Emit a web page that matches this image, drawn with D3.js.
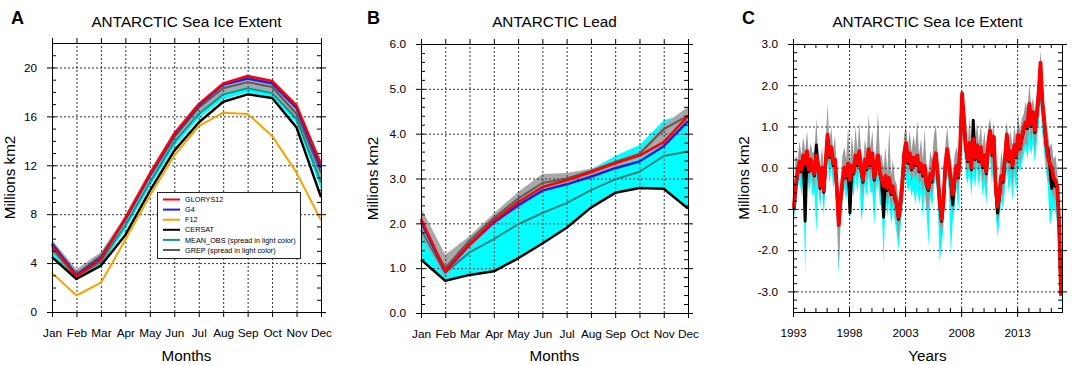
<!DOCTYPE html>
<html>
<head>
<meta charset="utf-8">
<script src="https://cdn.jsdelivr.net/npm/d3@7"></script>
<style>
body { margin: 0; background: #fff; }
svg { font-family: "Liberation Sans", Arial, sans-serif; }
.grid line { stroke: #333; stroke-dasharray: 2,2; stroke-width: 1; }
.grid path { display: none; }
.tk path { display: none; }
.tk line { stroke: #000; }
.tk text { font-size: 11.8px; fill: #000; font-family: "Liberation Sans", Arial, sans-serif; }
</style>
</head>
<body>
<div id="chart"></div>
<script>
//months on the x axis of panels A and B
var months = ["Jan","Feb","Mar","Apr","May","Jun","Jul","Aug","Sep","Oct","Nov","Dec"];

//panel A: climatology of sea ice extent
var glorysA  = [5.4, 2.9, 4.3, 7.7, 11.3, 14.6, 17.0, 18.7, 19.3, 18.9, 16.9, 12.1];
var g4A      = [5.6, 3.0, 4.4, 7.6, 11.2, 14.5, 16.9, 18.6, 19.1, 18.7, 16.7, 11.8];
var f12A     = [3.2, 1.35, 2.4, 5.9, 9.5, 12.8, 15.2, 16.3, 16.2, 14.4, 11.4, 7.5];
var cersatA  = [4.5, 2.7, 3.8, 6.3, 9.9, 13.2, 15.5, 17.2, 17.8, 17.5, 15.1, 9.4];
var meanObsA = [5.1, 2.9, 4.1, 7.1, 10.6, 13.9, 16.2, 17.8, 18.3, 17.9, 15.8, 10.6];
var obsLoA   = [4.7, 2.7, 3.85, 6.7, 10.2, 13.5, 15.8, 17.4, 17.95, 17.6, 15.4, 10.0];
var obsHiA   = [5.45, 3.1, 4.4, 7.5, 11.0, 14.3, 16.6, 18.2, 18.7, 18.3, 16.3, 11.2];
var grepA    = [5.5, 3.1, 4.6, 7.6, 11.1, 14.3, 16.7, 18.3, 18.8, 18.4, 16.2, 11.4];
var grepLoA  = [5.1, 2.6, 4.2, 7.2, 10.7, 13.9, 16.3, 17.9, 18.4, 18.0, 15.8, 10.9];
var grepHiA  = [5.9, 3.5, 4.9, 7.9, 11.5, 14.7, 17.1, 18.7, 19.2, 18.8, 16.6, 11.9];

//panel B: climatology of leads
var glorysB  = [2.1, 0.94, 1.54, 2.06, 2.47, 2.81, 2.96, 3.14, 3.34, 3.51, 3.81, 4.39];
var g4B      = [2.05, 0.92, 1.52, 2.02, 2.4, 2.73, 2.87, 3.04, 3.23, 3.38, 3.72, 4.28];
var cersatB  = [1.19, 0.72, 0.85, 0.93, 1.22, 1.55, 1.9, 2.35, 2.68, 2.79, 2.77, 2.33];
var meanObsB = [1.85, 0.9, 1.35, 1.65, 1.98, 2.23, 2.45, 2.74, 2.98, 3.15, 3.5, 3.6];
var obsLoB   = [1.19, 0.72, 0.85, 0.93, 1.22, 1.55, 1.9, 2.35, 2.68, 2.79, 2.77, 2.33];
var obsHiB   = [2.0, 1.0, 1.55, 2.05, 2.45, 2.8, 2.95, 3.2, 3.5, 3.75, 4.3, 4.45];
var grepB    = [2.0, 1.0, 1.62, 2.12, 2.55, 2.9, 3.0, 3.17, 3.37, 3.55, 4.1, 4.4];
var grepLoB  = [1.7, 0.8, 1.45, 1.95, 2.35, 2.75, 2.85, 3.0, 3.25, 3.45, 3.75, 4.3];
var grepHiB  = [2.35, 1.3, 1.72, 2.22, 2.7, 3.1, 3.12, 3.22, 3.4, 3.6, 4.2, 4.6];

//panel C: anomalies, one value every two months from Jan 1993 (one row per year)
var startYearC = 1993;
var glorysC = [
  -0.95, -0.4, -0.1, 0.15, -0.05, 0.3,
  0.1, 0.4, -0.05, 0.2, 0.0, -0.15,
  0.3, 0.05, -0.45, 0.0, -0.55, 0.15,
  0.8, 0.3, 0.5, 0.1, 0.2, -0.5,
  -1.4, -0.75, -0.3, 0.0, -0.2, 0.1,
  -0.3, 0.05, -0.1, 0.3, 0.1, 0.4,
  -0.05, -0.3, 0.2, 0.0, 0.45, 0.1,
  0.35, -0.25, 0.05, 0.3, -0.1, -0.3,
  -0.45, -0.2, -0.5, -0.25, -0.6, -0.45,
  -0.7, -0.85, -1.2, -0.9, -0.4, 0.35,
  0.6, 0.15, 0.35, 0.0, 0.25, 0.1,
  0.3, -0.05, 0.1, -0.15, 0.05, -0.4,
  -0.5, -0.15, -0.3, 0.15, 0.35, -0.15,
  -0.8, -1.25, -0.85, 0.05, 0.45, 0.1,
  -0.3, -0.65, -0.3, 0.05, -0.2, 0.5,
  1.8, 1.2, 0.5, 0.2, 0.6, 0.0,
  0.7, 0.25, 0.55, 0.2, 0.5, 0.05,
  0.3, -0.1, 0.6, 0.9, 0.35, 0.75,
  -0.45, -0.95, -0.65, -0.2, -0.3, 0.25,
  0.8, 0.2, 0.4, 0.05, 0.55, 0.3,
  0.8, 0.5, 0.75, 0.95, 1.1, 1.0,
  1.55, 1.05, 1.35, 0.9, 1.3, 1.8,
  2.55, 1.6, 1.15, 0.6, 0.25, 0.1,
  0.0, -0.25, -0.3, -0.45, -1.4, -3.1
];
var cersatC = [
  -1.0, -0.45, -0.15, 0.1, -0.1, 0.25,
  -1.3, 0.35, -0.1, 0.15, -0.05, -0.2,
  0.55, 0.0, -0.5, -0.05, -0.6, 0.1,
  0.75, 0.25, 0.45, 0.05, 0.15, -0.55,
  -1.35, -0.8, -0.35, -0.05, -0.25, 0.05,
  -1.1, 0.0, -0.15, 0.25, 0.05, 0.35,
  -0.1, -0.35, 0.15, -0.05, 0.4, 0.05,
  0.3, -0.3, 0.0, 0.25, -0.15, -0.35,
  -1.2, -0.25, -0.55, -0.3, -0.65, -0.5,
  -0.75, -0.9, -1.25, -0.95, -0.45, 0.3,
  0.55, 0.1, 0.3, -0.05, 0.2, 0.05,
  0.25, -0.1, 0.05, -0.2, 0.0, -0.45,
  -0.55, -0.2, -0.35, 0.1, 0.3, -0.2,
  -0.85, -1.3, -0.9, 0.0, 0.4, 0.05,
  -0.35, -0.9, -0.35, 0.0, -0.25, 0.45,
  1.7, 1.15, 0.45, 0.15, 0.55, -0.05,
  1.15, 0.2, 0.5, 0.15, 0.45, 0.0,
  0.25, -0.15, 0.55, 0.85, 0.3, 0.7,
  -0.5, -1.1, -0.7, -0.25, -0.35, 0.2,
  0.75, 0.15, 0.35, 0.0, 0.5, 0.25,
  0.75, 0.45, 0.7, 0.9, 1.05, 0.95,
  1.5, 1.0, 1.3, 0.85, 1.25, 1.75,
  2.45, 1.55, 1.1, 0.55, 0.45, 0.05,
  -0.5, -0.3, -0.45, -0.5, -1.5, -3.1
];
var grepHiC = [
  -0.6, 0.3, 0.2, 0.65, 0.3, 0.75,
  0.4, 0.9, 0.3, 0.6, 0.35, 0.4,
  1.2, 0.3, 0.0, 0.5, 0.0, 0.6,
  1.55, 0.6, 1.0, 0.4, 0.8, -0.1,
  -1.0, -0.3, 0.3, 0.5, 0.2, 1.0,
  0.1, 0.8, 0.3, 1.0, 0.4, 1.1,
  0.3, 0.1, 0.7, 0.4, 1.3, 0.5,
  0.9, 0.1, 0.5, 1.35, 0.3, 0.3,
  0.0, 0.5, -0.1, 0.95, -0.2, 0.2,
  -0.3, -0.4, -0.8, -0.3, 0.0, 0.8,
  1.0, 0.5, 0.9, 0.4, 0.8, 0.5,
  1.15, 0.3, 0.7, 0.2, 0.95, 0.0,
  -0.1, 0.4, 0.2, 0.8, 1.05, 0.3,
  -0.4, -0.8, -0.4, 0.5, 1.0, 0.5,
  0.2, -0.2, 0.3, 0.5, 0.3, 1.0,
  1.9, 1.6, 1.0, 0.6, 1.2, 0.5,
  1.2, 0.6, 1.1, 0.6, 1.05, 0.5,
  0.9, 0.3, 1.0, 1.2, 0.8, 1.1,
  0.0, -0.5, -0.2, 0.4, 0.1, 0.8,
  1.1, 0.6, 0.9, 0.5, 1.0, 0.7,
  1.3, 0.9, 1.2, 1.3, 1.6, 1.4,
  2.05, 1.5, 1.7, 1.3, 1.8, 2.1,
  2.85, 2.0, 1.5, 1.0, 0.8, 0.5,
  0.6, 0.2, 0.3, -0.1, -1.1, -2.9
];
var grepLoC = [
  -1.2, -0.7, -0.4, -0.1, -0.3, 0.0,
  -0.2, 0.1, -0.4, -0.1, -0.3, -0.5,
  0.0, -0.3, -0.8, -0.3, -0.9, -0.2,
  0.4, 0.0, 0.2, -0.2, -0.1, -0.9,
  -2.5, -1.1, -0.6, -0.3, -0.5, -0.2,
  -0.7, -0.3, -0.4, 0.0, -0.2, 0.1,
  -0.4, -0.7, -0.1, -0.3, 0.1, -0.3,
  0.0, -0.6, -0.3, 0.0, -0.5, -0.7,
  -1.3, -0.5, -0.9, -0.6, -1.0, -0.8,
  -1.1, -1.3, -1.7, -1.3, -0.8, 0.0,
  0.3, -0.2, 0.0, -0.4, -0.1, -0.3,
  -0.1, -0.4, -0.3, -0.6, -0.3, -1.0,
  -1.0, -0.5, -0.7, -0.2, 0.0, -0.5,
  -1.3, -1.7, -1.3, -0.3, 0.1, -0.3,
  -0.8, -1.1, -0.7, -0.3, -0.6, 0.1,
  1.3, 0.8, 0.1, -0.2, 0.2, -0.4,
  0.4, -0.2, 0.2, -0.2, 0.1, -0.4,
  -0.1, -0.5, 0.2, 0.5, -0.1, 0.3,
  -0.9, -1.4, -1.1, -0.6, -0.7, -0.2,
  0.4, -0.2, 0.0, -0.4, 0.1, -0.2,
  0.4, 0.1, 0.3, 0.5, 0.6, 0.5,
  1.1, 0.6, 0.9, 0.4, 0.8, 1.3,
  1.9, 1.1, 0.6, 0.1, -0.3, -0.4,
  -0.6, -0.7, -0.8, -1.0, -1.8, -3.3
];
var obsHiC = [
  -0.85, -0.3, 0.0, 0.25, 0.05, 0.4,
  0.2, 0.5, 0.05, 0.3, 0.1, -0.05,
  0.4, 0.15, -0.35, 0.1, -0.45, 0.25,
  0.9, 0.4, 0.6, 0.2, 0.3, -0.4,
  -1.3, -0.65, -0.2, 0.1, -0.1, 0.2,
  -0.2, 0.15, 0.0, 0.4, 0.2, 0.5,
  0.05, -0.2, 0.3, 0.1, 0.55, 0.2,
  0.45, -0.15, 0.15, 0.4, 0.0, -0.2,
  -0.35, -0.1, -0.4, -0.15, -0.5, -0.35,
  -0.6, -0.75, -1.1, -0.8, -0.3, 0.45,
  0.7, 0.25, 0.45, 0.1, 0.35, 0.2,
  0.4, 0.05, 0.2, -0.05, 0.15, -0.3,
  -0.4, -0.05, -0.2, 0.25, 0.45, -0.05,
  -0.7, -1.15, -0.75, 0.15, 0.55, 0.2,
  -0.2, -0.55, -0.2, 0.15, -0.1, 0.6,
  1.9, 1.3, 0.6, 0.3, 0.7, 0.1,
  0.8, 0.35, 0.65, 0.3, 0.6, 0.15,
  0.4, 0.0, 0.7, 1.0, 0.45, 0.85,
  -0.35, -0.85, -0.55, -0.1, -0.2, 0.35,
  0.9, 0.3, 0.5, 0.15, 0.65, 0.4,
  0.9, 0.6, 0.85, 1.05, 1.2, 1.1,
  1.65, 1.15, 1.45, 1.0, 1.4, 1.9,
  2.6, 1.7, 1.25, 0.7, 0.35, 0.2,
  0.1, -0.15, -0.2, -0.35, -1.3, -3.0
];
var obsLoC = [
  -1.2, -1.0, -0.5, -0.3, -0.7, -0.2,
  -2.6, 0.0, -0.6, -0.3, -0.7, -0.6,
  -1.6, -0.4, -1.0, -0.5, -1.2, -0.3,
  0.2, -0.4, 0.0, -0.5, -0.3, -1.3,
  -2.6, -1.3, -0.8, -0.5, -0.8, -0.4,
  -1.3, -0.5, -0.7, -0.2, -0.6, -0.1,
  -1.3, -1.0, -0.4, -0.7, -0.2, -0.6,
  -0.6, -1.4, -0.6, -0.3, -0.9, -0.9,
  -2.3, -0.7, -1.2, -0.8, -1.4, -1.0,
  -1.3, -1.6, -2.0, -1.5, -1.0, -0.3,
  -0.3, -0.6, -0.4, -0.7, -0.5, -0.9,
  -0.5, -0.9, -0.6, -1.2, -0.6, -1.1,
  -1.9, -0.7, -1.0, -0.4, -0.3, -0.9,
  -2.3, -1.9, -1.5, -0.5, -0.2, -0.6,
  -2.15, -1.3, -1.0, -0.5, -1.1, -0.1,
  0.9, 0.5, -0.2, -0.4, -0.1, -0.7,
  -0.1, -0.5, 0.0, -0.5, -0.1, -0.7,
  -0.4, -0.9, -0.1, 0.2, -0.4, 0.1,
  -1.1, -1.7, -1.3, -0.8, -1.0, -0.5,
  -0.1, -0.6, -0.3, -0.8, -0.2, -0.6,
  0.0, -0.1, 0.1, 0.3, 0.5, 0.2,
  0.6, 0.3, 0.6, 0.1, 0.6, 1.0,
  1.5, 0.8, 0.3, -0.1, -0.5, -1.4,
  -1.2, -0.9, -1.1, -1.4, -2.0, -3.5
];

//tick labels
var yTicksA = [0, 4, 8, 12, 16, 20];
var yTicksB = [0, 1, 2, 3, 4, 5, 6];
var yTicksC = [-3, -2, -1, 0, 1, 2, 3];
var xTicksC = [1993, 1998, 2003, 2008, 2013];

var legendNames = ["GLORYS12", "G4", "F12", "CERSAT", "MEAN_OBS (spread in light color)", "GREP (spread in light color)"];

var col = {red: "#ff0000", blue: "#2020e0", orange: "#f5a300", black: "#000000",
           teal: "#1a9090", grep: "#5a5a5a", cyan: "#00ffff", gray: "#a8a8a8"};
var legendColors = [col.red, col.blue, col.orange, col.black, col.teal, col.grep];

var svg = d3.select("#chart").append("svg")
    .attr("width", 1072)
    .attr("height", 365);

//draw the frame, grid and ticks of one panel
function frame(p) {
    var w = p.right - p.left, h = p.bottom - p.top;
    p.x.range([0, w]);
    p.y.range([h, 0]);
    var g = svg.append("g").attr("transform", "translate(" + p.left + "," + p.top + ")");
    p.bands = g.append("g");
    var grid = g.append("g");
    grid.append("g").attr("class", "grid").attr("transform", "translate(0," + h + ")")
        .call(d3.axisBottom(p.x).tickValues(p.xMajor).tickSize(-h).tickFormat(""));
    grid.append("g").attr("class", "grid")
        .call(d3.axisLeft(p.y).tickValues(p.yMajor).tickSize(-w).tickFormat(""));
    p.lines = g.append("g");

    //major ticks, outward
    g.append("g").attr("class", "tk").attr("transform", "translate(0," + h + ")")
        .call(d3.axisBottom(p.x).tickValues(p.xMajor).tickSize(5).tickPadding(12).tickFormat(p.xFormat));
    g.append("g").attr("class", "tk")
        .call(d3.axisTop(p.x).tickValues(p.xMajor).tickSize(5).tickFormat(""));
    g.append("g").attr("class", "tk")
        .call(d3.axisLeft(p.y).tickValues(p.yMajor).tickSize(5).tickPadding(10).tickFormat(p.yFormat));
    g.append("g").attr("class", "tk").attr("transform", "translate(" + w + ",0)")
        .call(d3.axisRight(p.y).tickValues(p.yMajor).tickSize(5).tickFormat(""));

    //minor ticks, inward
    g.append("g").attr("class", "tk")
        .call(d3.axisLeft(p.y).tickValues(p.yMinor).tickSize(-4).tickFormat(""));
    g.append("g").attr("class", "tk").attr("transform", "translate(" + w + ",0)")
        .call(d3.axisRight(p.y).tickValues(p.yMinor).tickSize(-4).tickFormat(""));
    if (p.xMinor) {
        g.append("g").attr("class", "tk").attr("transform", "translate(0," + h + ")")
            .call(d3.axisBottom(p.x).tickValues(p.xMinor).tickSize(-4).tickFormat(""));
        g.append("g").attr("class", "tk")
            .call(d3.axisTop(p.x).tickValues(p.xMinor).tickSize(-4).tickFormat(""));
    }

    //border
    g.append("rect").attr("x", 0.5).attr("y", 0.5).attr("width", w).attr("height", h)
        .attr("fill", "none").attr("stroke", "#000").attr("stroke-width", 1);

    //texts
    var cx = p.left + w / 2;
    svg.append("text").attr("x", p.letterX).attr("y", 23.5).text(p.letter)
        .attr("font-size", 18).attr("font-weight", "bold");
    svg.append("text").attr("x", cx).attr("y", 26.5).attr("text-anchor", "middle")
        .attr("font-size", 15.3).text(p.title);
    svg.append("text").attr("x", cx).attr("y", 360.5).attr("text-anchor", "middle")
        .attr("font-size", 15.2).text(p.xTitle);
    svg.append("text").attr("transform", "translate(" + p.yTitleX + "," + (p.top + h / 2) + ") rotate(-90)")
        .attr("text-anchor", "middle").attr("font-size", 15.2).text("Millions km2");
    p.w = w; p.h = h;
    return p;
}

function range(a, b, step) {
    return d3.range(a, b + step / 2, step).map(function(v) { return Math.round(v * 100) / 100; });
}

function addBand(p, lo, hi, color, xs) {
    var area = d3.area()
        .x(function(d, i) { return p.x(xs[i]); })
        .y0(function(d, i) { return p.y(lo[i]); })
        .y1(function(d, i) { return p.y(hi[i]); });
    p.bands.append("path").datum(lo).attr("d", area).attr("fill", color).attr("stroke", "none");
}

function addLine(p, vals, color, width, xs) {
    var line = d3.line()
        .x(function(d, i) { return p.x(xs[i]); })
        .y(function(d) { return p.y(d); });
    p.lines.append("path").datum(vals).attr("d", line)
        .attr("fill", "none").attr("stroke", color).attr("stroke-width", width)
        .attr("stroke-linejoin", "round");
}

var fmt1 = function(d) { return d.toFixed(1); };

//panel A
var pA = frame({
    left: 52, right: 321, top: 43, bottom: 312,
    x: d3.scalePoint().domain(months).padding(0),
    y: d3.scaleLinear().domain([0, 22]),
    xMajor: months, xFormat: function(d) { return d; },
    yMajor: yTicksA, yMinor: range(0, 22, 1), yFormat: function(d) { return d; },
    letter: "A", letterX: 11, title: "ANTARCTIC Sea Ice Extent", xTitle: "Months", yTitleX: 15
});
addBand(pA, obsLoA, obsHiA, col.cyan, months);
addBand(pA, grepLoA, grepHiA, col.gray, months);
addLine(pA, grepA, col.grep, 2, months);
addLine(pA, meanObsA, col.teal, 2, months);
addLine(pA, cersatA, col.black, 2.5, months);
addLine(pA, f12A, col.orange, 2, months);
addLine(pA, g4A, col.blue, 2.5, months);
addLine(pA, glorysA, col.red, 2.5, months);

//legend of panel A
var leg = svg.append("g").attr("transform", "translate(157,192)");
leg.append("rect").attr("x", 0.5).attr("y", 0.5).attr("width", 143).attr("height", 66)
    .attr("fill", "#fff").attr("stroke", "#222").attr("stroke-width", 1);
legendNames.forEach(function(name, i) {
    var yy = 7.5 + i * 10.1;
    leg.append("line").attr("x1", 6).attr("x2", 23).attr("y1", yy).attr("y2", yy)
        .attr("stroke", legendColors[i]).attr("stroke-width", 2);
    leg.append("text").attr("x", 28).attr("y", yy + 2.6).attr("font-size", 7.3).text(name);
});

//panel B
var pB = frame({
    left: 421, right: 688, top: 44, bottom: 313,
    x: d3.scalePoint().domain(months).padding(0),
    y: d3.scaleLinear().domain([0, 6]),
    xMajor: months, xFormat: function(d) { return d; },
    yMajor: yTicksB, yMinor: range(0, 6, 0.2), yFormat: fmt1,
    letter: "B", letterX: 367, title: "ANTARCTIC Lead", xTitle: "Months", yTitleX: 378
});
addBand(pB, obsLoB, obsHiB, col.cyan, months);
addBand(pB, grepLoB, grepHiB, col.gray, months);
addLine(pB, meanObsB, "#2b7f7f", 2, months);
addLine(pB, grepB, col.grep, 2, months);
addLine(pB, cersatB, col.black, 2.5, months);
addLine(pB, g4B, col.blue, 2.5, months);
addLine(pB, glorysB, col.red, 2.5, months);

//panel C
var tC = glorysC.map(function(d, i) { return startYearC + (2 * i + 1) / 12; });
var pC = frame({
    left: 793, right: 1062, top: 44, bottom: 312,
    x: d3.scaleLinear().domain([1993, 2017]),
    y: d3.scaleLinear().domain([-3.5, 3]),
    xMajor: xTicksC, xMinor: range(1993, 2017, 1), xFormat: function(d) { return d; },
    yMajor: yTicksC, yMinor: range(-3.4, 3, 0.2), yFormat: fmt1,
    letter: "C", letterX: 742, title: "ANTARCTIC Sea Ice Extent", xTitle: "Years", yTitleX: 749
});
addBand(pC, obsLoC, obsHiC, col.cyan, tC);
addBand(pC, grepLoC, grepHiC, "#9a9a9a", tC);
addLine(pC, cersatC, col.black, 3, tC);
addLine(pC, glorysC, col.red, 3.8, tC);
</script>
</body>
</html>
